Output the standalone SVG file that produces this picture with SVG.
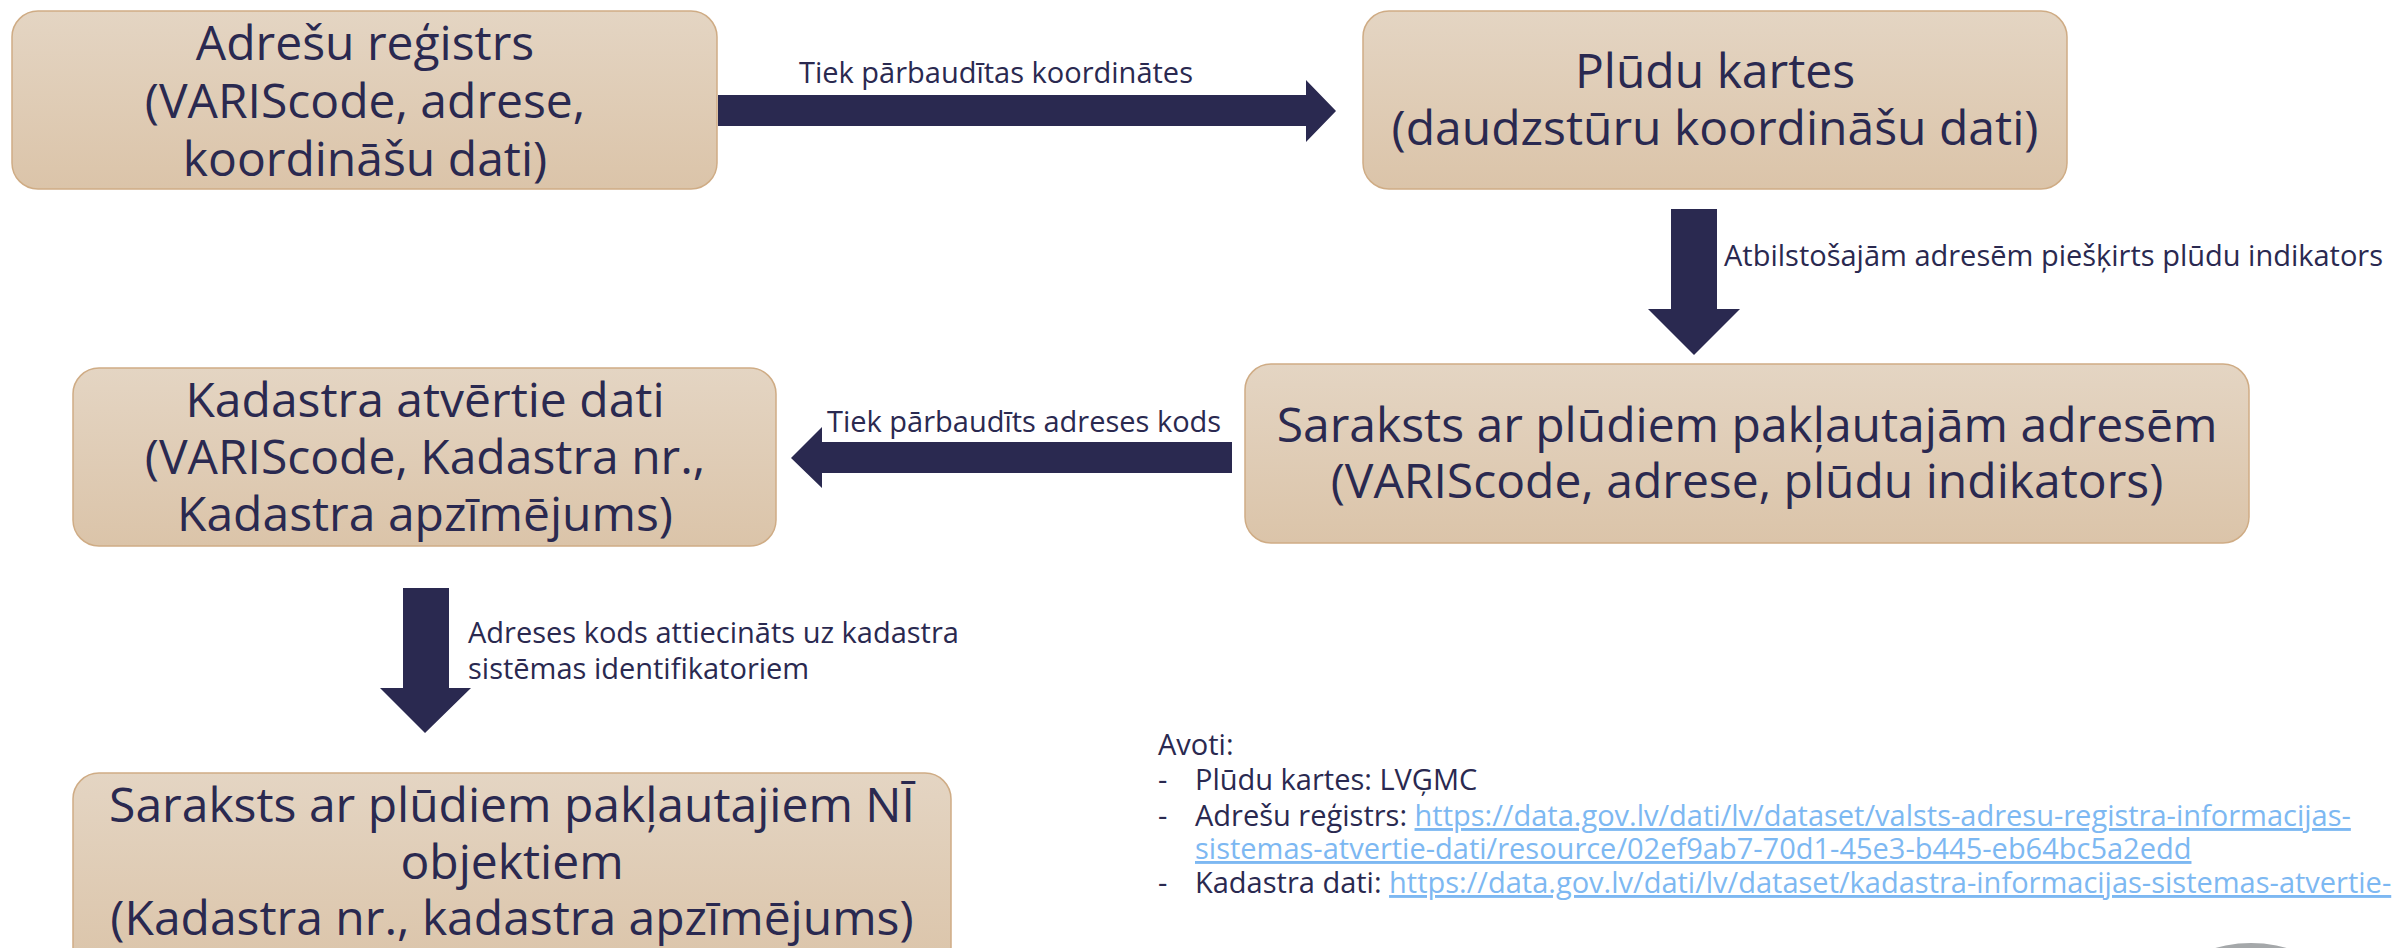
<svg xmlns="http://www.w3.org/2000/svg" width="2397" height="948" viewBox="0 0 2397 948">
<defs>
<linearGradient id="boxfill" x1="0" y1="0" x2="0" y2="1">
<stop offset="0" stop-color="#e4d5c3"/>
<stop offset="1" stop-color="#dbc4a9"/>
</linearGradient>
<style>
.box{fill:url(#boxfill);stroke:#cfac85;stroke-width:1.5}
.bt{font-family:"Open Sans","Noto Sans",sans-serif;font-size:48px;fill:#2a2950;text-anchor:middle}
.lbl{font-family:"Open Sans","Noto Sans",sans-serif;font-size:29px;fill:#2a2950}
.arrow{fill:#2a2950}
.src{font-family:"Open Sans","Noto Sans",sans-serif;font-size:29px;fill:#2a2950}
.lnk{fill:#7db8f2;text-decoration:underline}
</style>
</defs>
<rect width="2397" height="948" fill="#ffffff"/>

<g id="connectors">
<path class="arrow" d="M718,95 H1306 V80 L1336,111 L1306,142 V126 H718 Z"/>
<text class="lbl" x="799" y="83">Tiek pārbaudītas koordinātes</text>
<path class="arrow" d="M1671,209 H1717 V309 H1740 L1694,355 L1648,309 H1671 Z"/>
<text class="lbl" x="1724" y="266">Atbilstošajām adresēm piešķirts plūdu indikators</text>
<path class="arrow" d="M1232,442 V473 H822 V488 L791,458 L822,427 V442 Z"/>
<text class="lbl" x="827" y="432">Tiek pārbaudīts adreses kods</text>
<path class="arrow" d="M403,588 H449 V688 H471 L425,733 L380,688 H403 Z"/>
<text class="lbl" x="468" y="643">Adreses kods attiecināts uz kadastra</text>
<text class="lbl" x="468" y="679">sistēmas identifikatoriem</text>
</g>

<g id="node-adresu-registrs">
<rect class="box" x="12" y="11" width="705" height="178" rx="26"/>
<text class="bt" x="365" y="60">Adrešu reģistrs</text>
<text class="bt" x="365" y="118">(VARIScode, adrese,</text>
<text class="bt" x="365" y="176">koordināšu dati)</text>
</g>

<g id="node-pludu-kartes">
<rect class="box" x="1363" y="11" width="704" height="178" rx="26"/>
<text class="bt" x="1715" y="88">Plūdu kartes</text>
<text class="bt" x="1715" y="145">(daudzstūru koordināšu dati)</text>
</g>

<g id="node-saraksts-adreses">
<rect class="box" x="1245" y="364" width="1004" height="179" rx="26"/>
<text class="bt" x="1747" y="442">Saraksts ar plūdiem pakļautajām adresēm</text>
<text class="bt" x="1747" y="498">(VARIScode, adrese, plūdu indikators)</text>
</g>

<g id="node-kadastra-dati">
<rect class="box" x="73" y="368" width="703" height="178" rx="26"/>
<text class="bt" x="425" y="417">Kadastra atvērtie dati</text>
<text class="bt" x="425" y="474">(VARIScode, Kadastra nr.,</text>
<text class="bt" x="425" y="531">Kadastra apzīmējums)</text>
</g>

<g id="node-saraksts-ni">
<rect class="box" x="73" y="773" width="878" height="200" rx="26"/>
<text class="bt" x="512" y="822">Saraksts ar plūdiem pakļautajiem NĪ</text>
<text class="bt" x="512" y="879">objektiem</text>
<text class="bt" x="512" y="935">(Kadastra nr., kadastra apzīmējums)</text>
</g>

<g id="sources">
<text class="src" x="1158" y="755">Avoti:</text>
<text class="src" x="1158" y="790">-</text>
<text class="src" x="1195" y="790">Plūdu kartes: LVĢMC</text>
<text class="src" x="1158" y="826">-</text>
<text class="src" x="1195" y="826">Adrešu reģistrs: <tspan class="lnk">https://data.gov.lv/dati/lv/dataset/valsts-adresu-registra-informacijas-</tspan></text>
<text class="src lnk" x="1195" y="859">sistemas-atvertie-dati/resource/02ef9ab7-70d1-45e3-b445-eb64bc5a2edd</text>
<text class="src" x="1158" y="893">-</text>
<text class="src" x="1195" y="893">Kadastra dati: <tspan class="lnk">https://data.gov.lv/dati/lv/dataset/kadastra-informacijas-sistemas-atvertie-</tspan></text>
</g>

<circle cx="2251" cy="1073" r="130" fill="#a5a8aa"/>
</svg>
